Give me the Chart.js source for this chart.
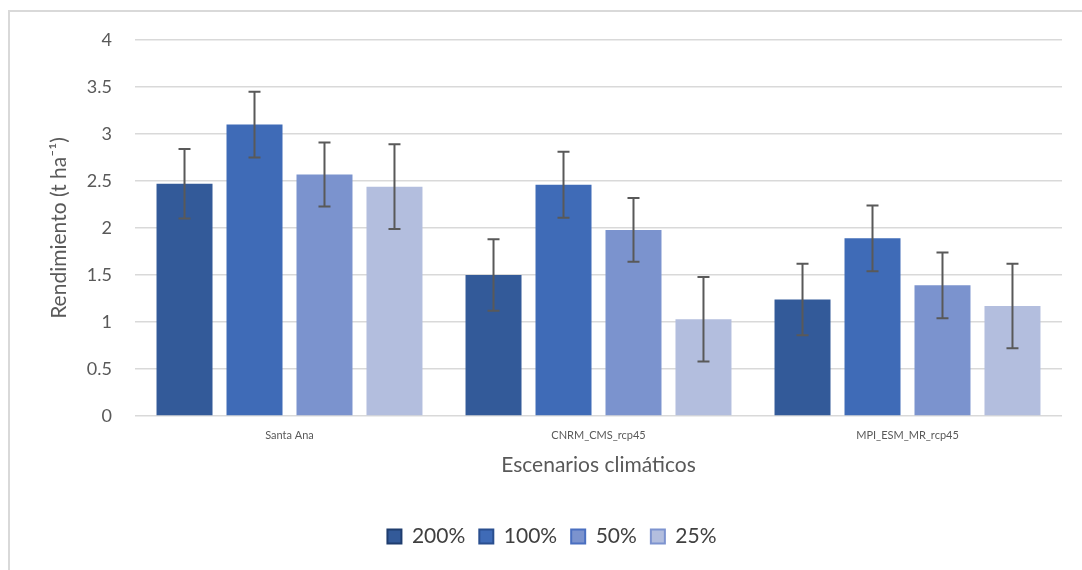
<!DOCTYPE html>
<html>
<head>
<meta charset="utf-8">
<script src="https://cdn.jsdelivr.net/npm/chart.js@4.4.0/dist/chart.umd.min.js"></script>
<style>
  html, body { margin:0; padding:0; background:#fff; }
  #wrap { position:relative; width:1082px; height:570px; }
  #frame { position:absolute; left:8px; top:10px; right:0; bottom:0; border-top:2px solid #d9d9d9; border-left:2px solid #d9d9d9; pointer-events:none; }
  canvas { position:absolute; left:0; top:0; }
</style>
</head>
<body>
<div id="wrap">
  <canvas id="chart" width="1082" height="570"></canvas>
  <div id="frame"></div>
</div>
<script>
// data
const categories = ['Santa Ana', 'CNRM_CMS_rcp45', 'MPI_ESM_MR_rcp45'];
const seriesNames = ['200%', '100%', '50%', '25%'];
const v200 = [2.47, 1.50, 1.24];
const v100 = [3.10, 2.46, 1.89];
const v50 = [2.57, 1.98, 1.39];
const v25 = [2.44, 1.03, 1.17];
const e200 = [0.37, 0.38, 0.38];
const e100 = [0.35, 0.35, 0.35];
const e50 = [0.34, 0.34, 0.35];
const e25 = [0.45, 0.45, 0.45];
const yTicks = [0, 0.5, 1, 1.5, 2, 2.5, 3, 3.5, 4];

const colors = ['#335a99', '#3f6bb7', '#7b93ce', '#b3bede'];
const edges = ['#1f3d6e', '#2a4f8f', '#4a6fc0', '#7d93cf'];
const FONT = 'Lato, "Open Sans", sans-serif';
const TXT = '#595959';

const values = [v200, v100, v50, v25];
const errors = [e200, e100, e50, e25];

// error bars drawn with the chart's own scales
const errorBars = {
  id: 'errorBars',
  afterDatasetsDraw(chart) {
    const ctx = chart.ctx;
    const y = chart.scales.y;
    ctx.save();
    ctx.strokeStyle = '#595959';
    ctx.lineWidth = 2;
    chart.data.datasets.forEach((ds, i) => {
      const meta = chart.getDatasetMeta(i);
      meta.data.forEach((bar, j) => {
        const v = ds.data[j], e = ds.err[j];
        const yt = y.getPixelForValue(v + e);
        const yb = y.getPixelForValue(v - e);
        const x = bar.x;
        ctx.beginPath();
        ctx.moveTo(x, yt); ctx.lineTo(x, yb);
        ctx.moveTo(x - 6, yt); ctx.lineTo(x + 6, yt);
        ctx.moveTo(x - 6, yb); ctx.lineTo(x + 6, yb);
        ctx.stroke();
      });
    });
    ctx.restore();
  }
};

new Chart(document.getElementById('chart'), {
  type: 'bar',
  data: {
    labels: categories,
    datasets: seriesNames.map((name, i) => ({
      label: name,
      data: values[i],
      err: errors[i],
      backgroundColor: colors[i],
      borderColor: edges[i],
      borderWidth: 0,
      barPercentage: 0.8,
      categoryPercentage: 0.906
    }))
  },
  options: {
    responsive: false,
    animation: false,
    layout: { padding: { top: 40, right: 20, left: 42, bottom: 13 } },
    plugins: {
      tooltip: { enabled: false },
      legend: {
        position: 'bottom',
        labels: {
          color: '#404040',
          font: { family: FONT, size: 21 },
          boxWidth: 14,
          boxHeight: 14,
          padding: 14,
          generateLabels(chart) {
            return chart.data.datasets.map((ds, i) => ({
              text: ds.label,
              fillStyle: colors[i],
              strokeStyle: edges[i],
              lineWidth: 2,
              fontColor: '#404040',
              datasetIndex: i
            }));
          }
        }
      }
    },
    scales: {
      x: {
        grid: { display: false },
        border: { display: false },
        ticks: { color: TXT, font: { family: FONT, size: 11 }, padding: 5 },
        title: { display: true, text: 'Escenarios climáticos', color: TXT, font: { family: FONT, size: 21 }, padding: { top: 4, bottom: 34 } },
        afterFit(s) { s.height = 96; }
      },
      y: {
        min: 0, max: 4,
        afterBuildTicks(s) { s.ticks = yTicks.map(v => ({ value: v })); },
        grid: { color: '#d9d9d9', lineWidth: 1.5, drawTicks: false },
        border: { display: false },
        ticks: { color: TXT, font: { family: FONT, size: 18 }, padding: 23, callback: v => String(v) },
        title: { display: true, text: 'Rendimiento (t ha⁻¹)', color: TXT, font: { family: FONT, size: 21 }, padding: { top: 5, bottom: 0 } },
        afterFit(s) { s.width = 93; }
      }
    }
  },
  plugins: [errorBars]
});
</script>
</body>
</html>
